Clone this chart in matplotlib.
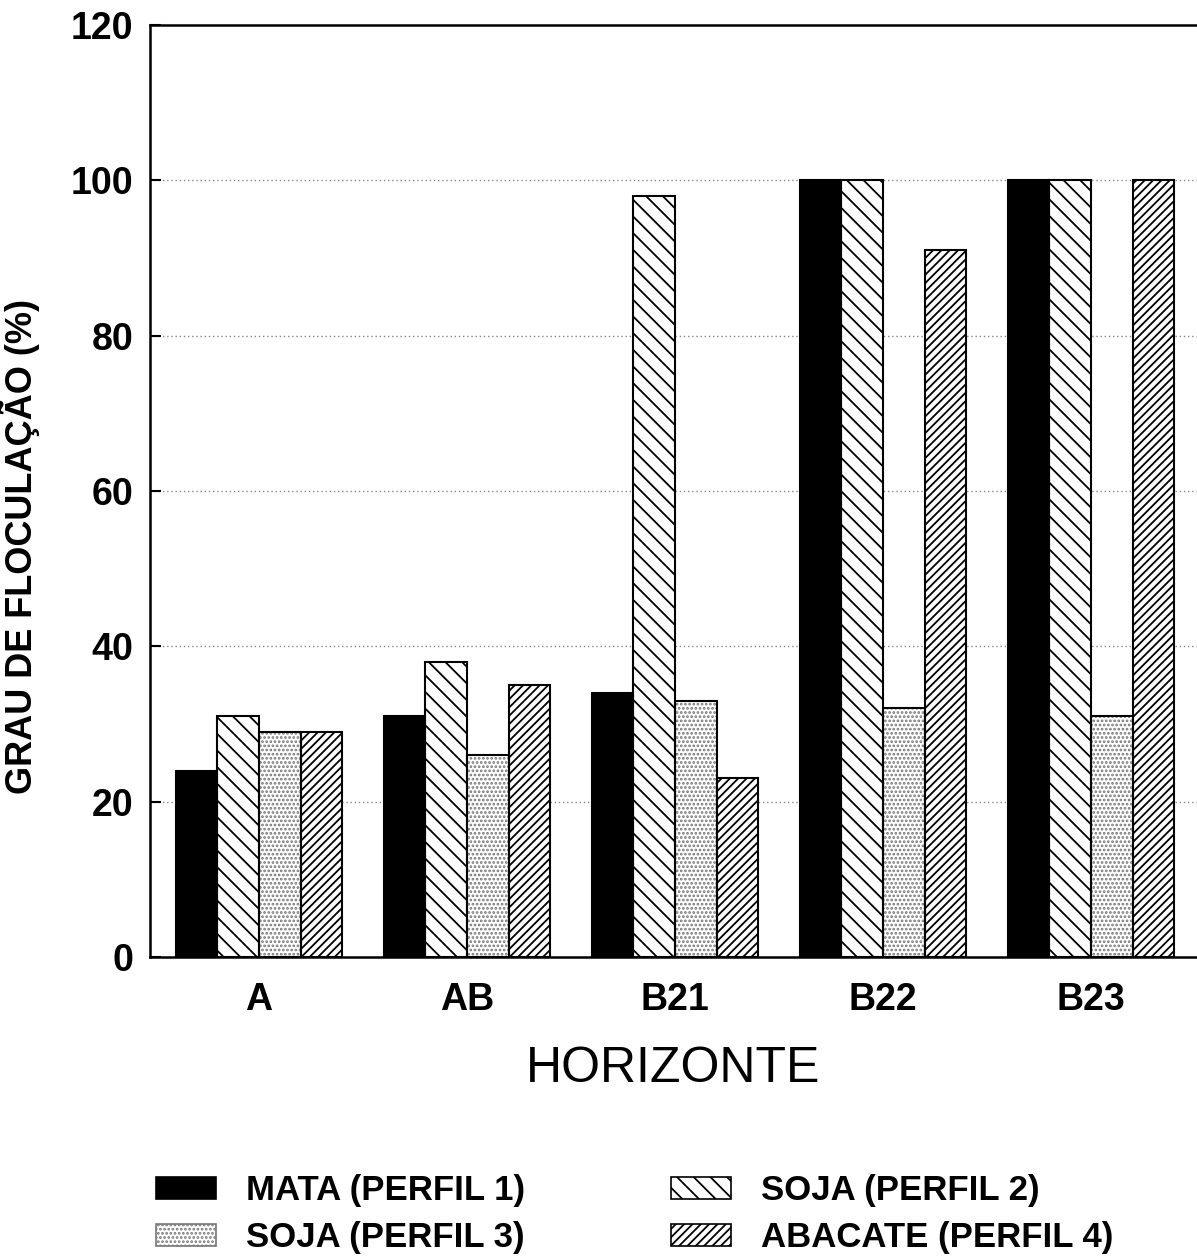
import matplotlib
matplotlib.use("Agg")
import matplotlib.pyplot as plt
import numpy as np

plt.rcParams['font.family'] = ['Liberation Sans', 'DejaVu Sans']
plt.rcParams['hatch.linewidth'] = 1.3

horizontes = ["A", "AB", "B21", "B22", "B23"]
series_names = ["MATA (PERFIL 1)", "SOJA (PERFIL 2)", "SOJA (PERFIL 3)", "ABACATE (PERFIL 4)"]
mata_p1 = [24, 31, 34, 100, 100]
soja_p2 = [31, 38, 98, 100, 100]
soja_p3 = [29, 26, 33, 32, 31]
abacate_p4 = [29, 35, 23, 91, 100]

fig = plt.figure(figsize=(11.97, 12.57), dpi=100)
ax = fig.add_axes([150 / 1197, 1 - 957 / 1257, 1 - 150 / 1197, (957 - 25) / 1257])

x = np.arange(len(horizontes))
w = 0.2
offsets = [-1.5 * w, -0.5 * w, 0.5 * w, 1.5 * w]

# estilo de cada serie: (fill, hatch, hatch colour)
styles = [
    ("black", None, "black"),
    ("white", "\\\\", "black"),
    ("white", "....", "#777777"),
    ("white", "////", "black"),
]

handles = []
for vals, off, (fc, hatch, hc) in zip([mata_p1, soja_p2, soja_p3, abacate_p4], offsets, styles):
    ax.bar(x + off, vals, w, color=fc, hatch=hatch, edgecolor=hc, linewidth=0, zorder=3)
    ax.bar(x + off, vals, w, color="none", edgecolor="black", linewidth=1.5, zorder=4)
    handles.append(plt.Rectangle((0, 0), 1, 1, facecolor=fc, hatch=hatch, edgecolor=hc, linewidth=1.2))

ax.set_ylim(0, 120)
ax.set_xlim(-0.524, 4.51)
ax.set_yticks(range(0, 121, 20))
ax.set_xticks(x)
ax.set_xticklabels(horizontes)
ax.tick_params(axis="y", direction="in", length=8, width=1.5, labelsize=27, pad=12)
ax.tick_params(axis="x", length=0, labelsize=27, pad=18)
for lab in ax.get_xticklabels() + ax.get_yticklabels():
    lab.set_fontweight("bold")

for yv in range(20, 101, 20):
    ax.axhline(yv, color="#888888", linestyle=(0, (1, 2)), linewidth=1, zorder=1)

ax.spines["right"].set_visible(False)
for s in ["left", "top", "bottom"]:
    ax.spines[s].set_linewidth(1.8)

ax.set_ylabel("GRAU DE FLOCULAÇÃO (%)", fontsize=26, fontweight="bold")
ax.yaxis.set_label_coords(-0.105, 0.44)
ax.set_xlabel("HORIZONTE", fontsize=36, labelpad=20)

order = [0, 2, 1, 3]
fig.legend([handles[i] for i in order], [series_names[i] for i in order],
           loc="upper left", bbox_to_anchor=(125 / 1197, 1 - 1143 / 1257),
           ncol=2, frameon=False, handlelength=1.73, handleheight=0.58,
           handletextpad=0.86, columnspacing=4.2, labelspacing=0.4,
           prop={"weight": "bold", "size": 25})

fig.savefig("out.png", dpi=100)
